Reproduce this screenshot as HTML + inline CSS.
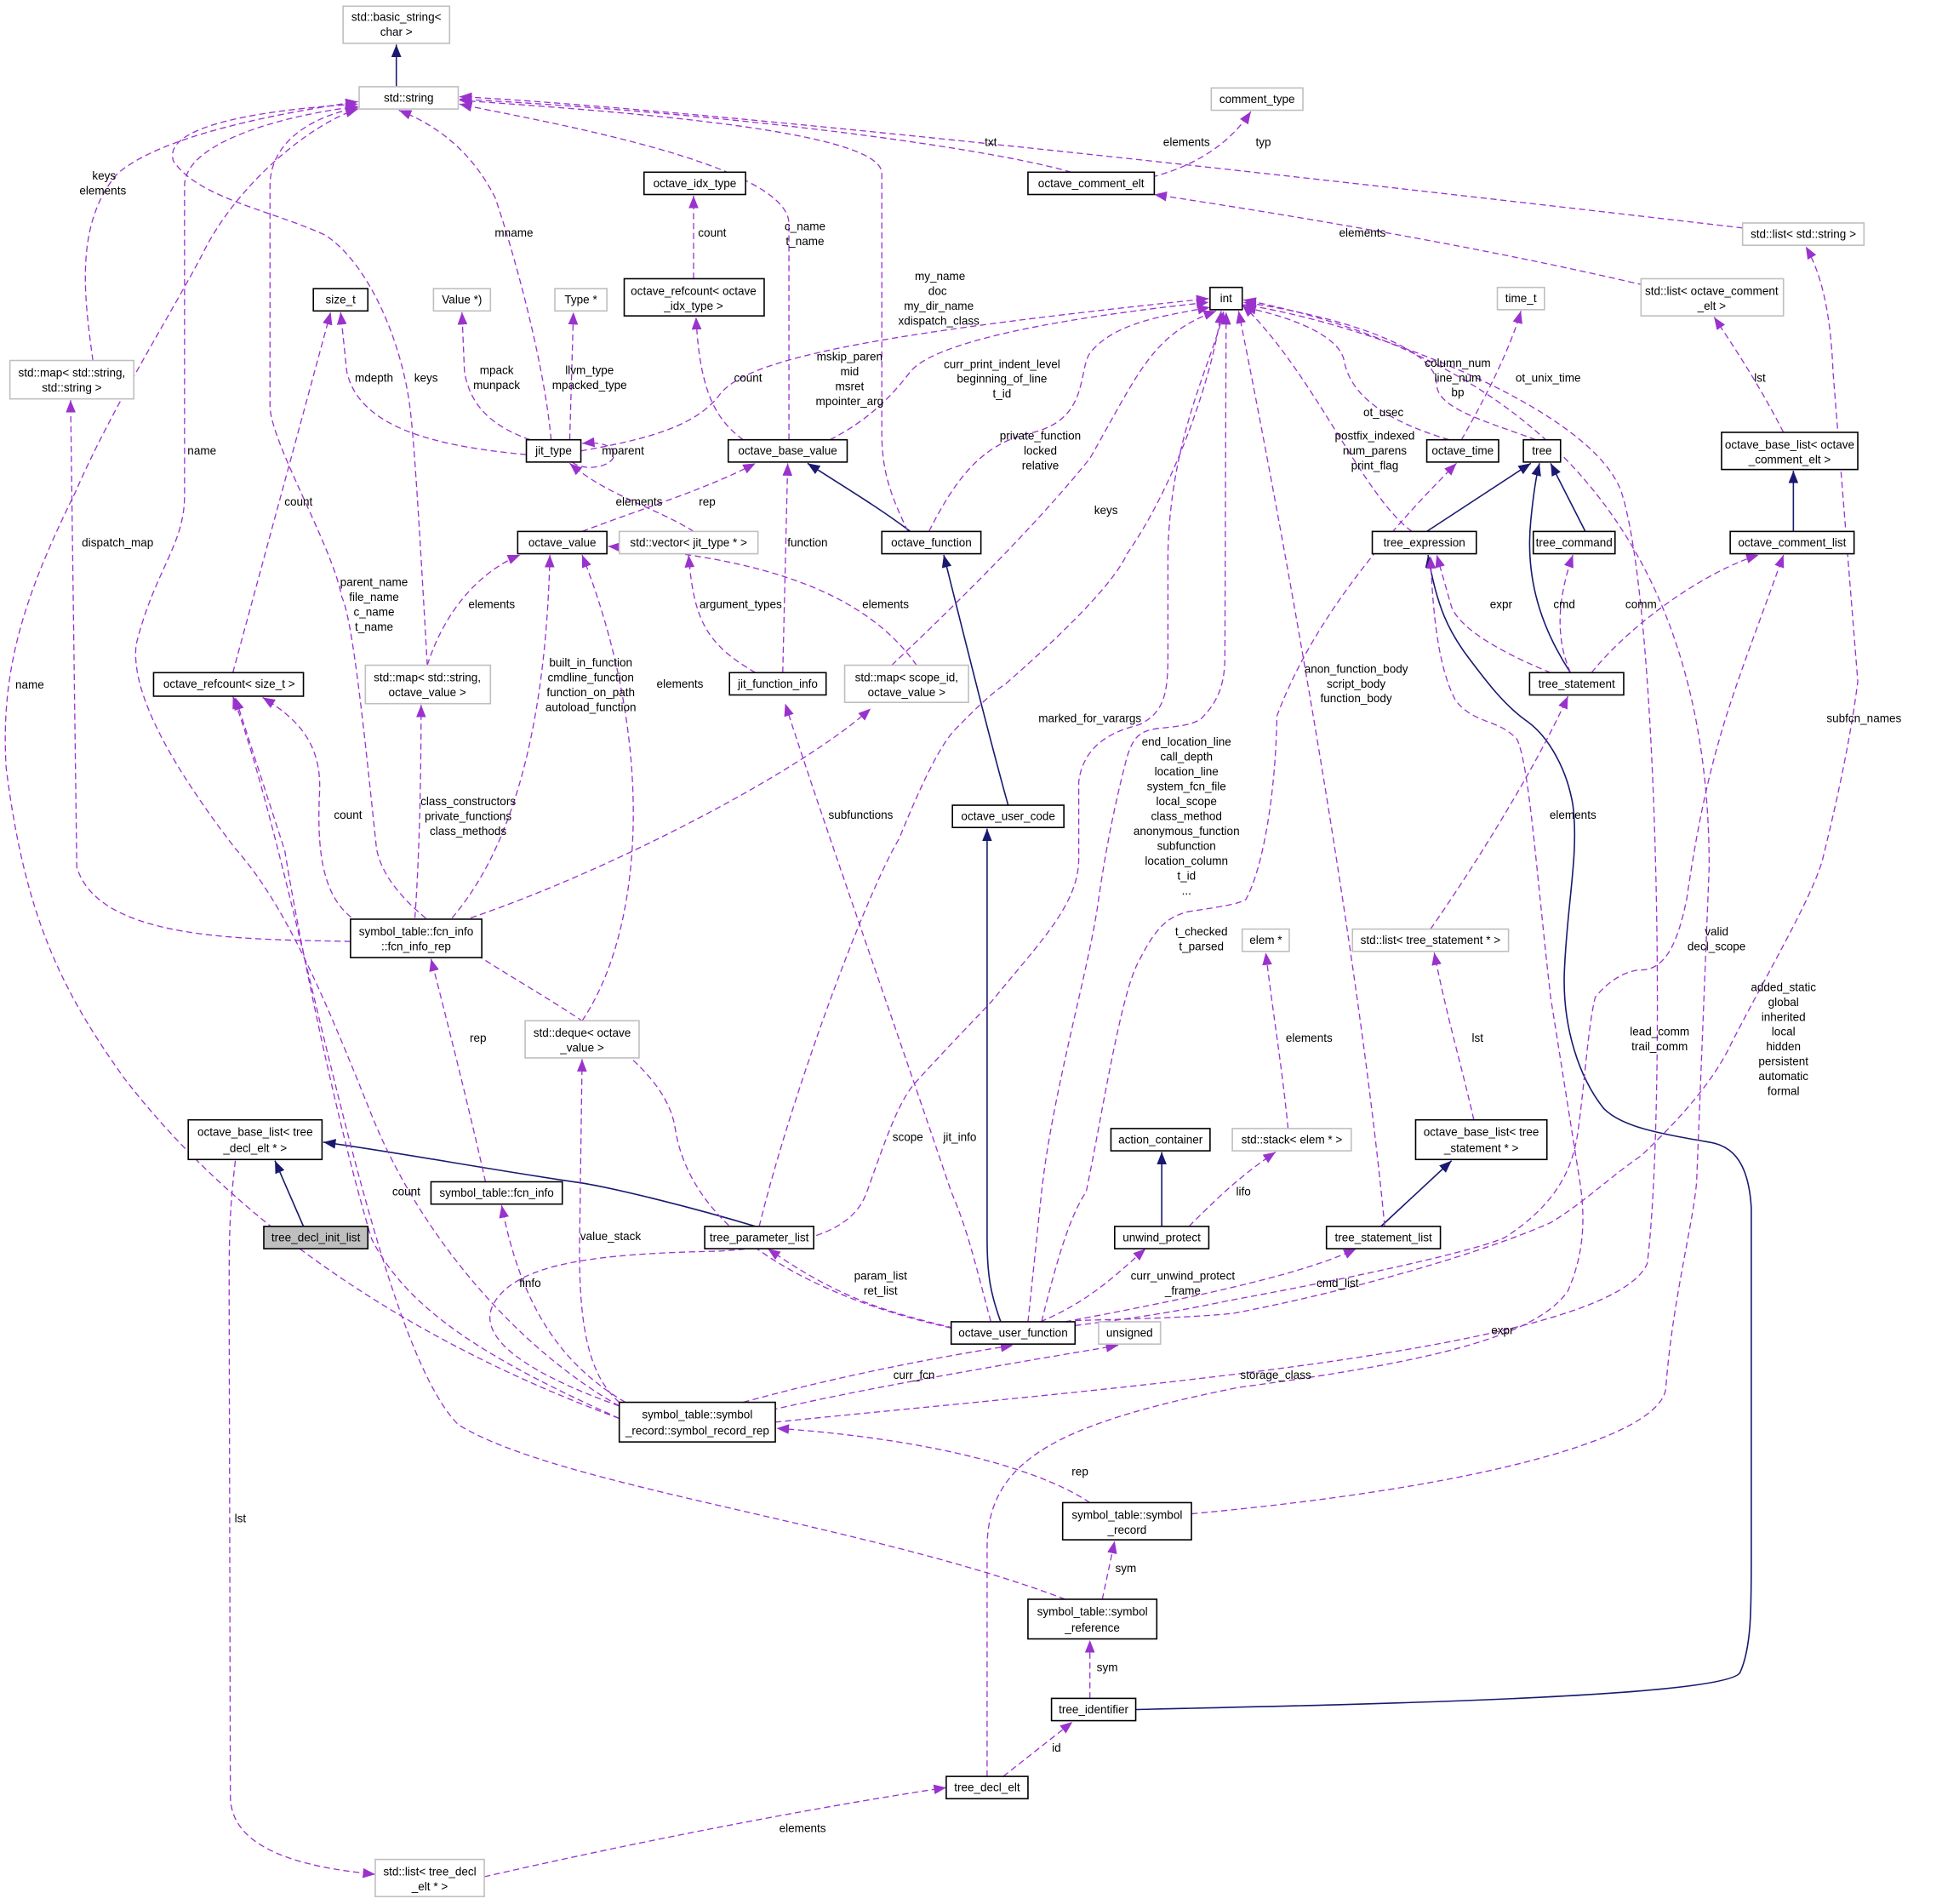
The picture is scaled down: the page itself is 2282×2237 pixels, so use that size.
<!DOCTYPE html>
<html><head><meta charset="utf-8"><style>
html,body{margin:0;padding:0;background:#fff;}
svg{display:block;}
text{font-family:"Liberation Sans",sans-serif;font-size:9.3px;fill:#000;text-anchor:middle;}
.b{fill:#fff;stroke:#000;stroke-width:1.1;}
.g{fill:#fff;stroke:#bfbfbf;stroke-width:1.1;}
.f{fill:#bfbfbf;stroke:#000;stroke-width:1.1;}
.d{fill:none;stroke:#9a32cd;stroke-width:0.9;stroke-dasharray:5,3;marker-end:url(#pa);}
.s{fill:none;stroke:#191970;stroke-width:1.1;marker-end:url(#na);}
</style></head><body>
<svg width="2282" height="2237" viewBox="0 0 1568 1537" preserveAspectRatio="none" xmlns="http://www.w3.org/2000/svg">
<defs>
<marker id="pa" markerUnits="userSpaceOnUse" markerWidth="11" markerHeight="8" refX="10" refY="4" orient="auto"><path d="M0,0 L10,4 L0,8 z" fill="#9a32cd"/></marker>
<marker id="na" markerUnits="userSpaceOnUse" markerWidth="11" markerHeight="8" refX="10" refY="4" orient="auto"><path d="M0,0 L10,4 L0,8 z" fill="#191970"/></marker>
</defs>

<!-- solid inheritance edges -->
<path class="s" d="M320,70 L320,36"/>
<path class="s" d="M735,429 C710,410 680,392 652,374"/>
<path class="s" d="M814,650 C800,600 780,520 762,448"/>
<path class="s" d="M808,1067 C800,1045 797,1030 797,1000 L797,669"/>
<path class="s" d="M1152,429 L1236,374"/>
<path class="s" d="M1280,429 L1252,374"/>
<path class="s" d="M1268,543 C1240,500 1232,460 1236,420 C1238,400 1240,385 1243,374"/>
<path class="s" d="M1448,429 L1448,380"/>
<path class="s" d="M245,990 L222,937"/>
<path class="s" d="M610,990 C560,975 500,960 470,955 C400,945 320,930 261,922"/>
<path class="s" d="M938,990 L938,930"/>
<path class="s" d="M1115,990 L1172,937"/>
<path class="s" d="M917,1380 C1100,1376 1395,1370 1405,1350 C1414,1330 1414,1300 1414,1260 L1414,975 C1412,940 1400,925 1380,922 C1340,915 1310,910 1295,895 C1275,870 1262,830 1263,787 C1265,730 1275,690 1270,650 C1265,620 1250,595 1234,583 C1215,570 1200,550 1185,530 C1170,510 1160,490 1153,448"/>

<!-- dashed edges to std::string -->
<path class="d" d="M75,291 C68,240 60,180 95,140 C130,110 220,92 289,82"/>
<path class="d" d="M500,1145 C350,1090 200,1000 100,870 C50,800 20,740 5,620 C0,540 20,480 61,397 C90,330 140,250 163,206 C190,150 250,100 289,88"/>
<path class="d" d="M500,1135 C420,1090 340,1000 300,900 C260,800 230,730 190,685 C140,620 105,560 110,520 C125,460 149,440 149,400 L149,150 C149,110 250,90 289,86"/>
<path class="d" d="M345,537 C340,450 335,360 331,329 C325,280 300,215 263,190 C220,170 160,160 140,130 C130,100 220,88 289,84"/>
<path class="d" d="M768,1072 C690,1055 560,1010 545,910 C530,820 320,770 304,685 C295,600 285,500 276,482 C268,440 220,360 218,329 L218,150 C218,110 260,92 289,87"/>
<path class="d" d="M445,355 C440,300 420,220 400,160 C380,120 350,100 322,89"/>
<path class="d" d="M637,355 L637,180 C635,130 420,95 371,84"/>
<path class="d" d="M733,429 C722,405 712,385 712,350 L712,140 C712,105 500,90 371,81"/>
<path class="d" d="M865,139 C800,120 600,92 371,80"/>
<path class="d" d="M1407,184 C1200,160 600,90 371,78"/>

<!-- edges to int -->
<path class="d" d="M469,364 C520,355 560,345 580,320 C600,290 700,270 976,241"/>
<path class="d" d="M670,355 C700,340 720,320 735,300 C760,270 900,252 976,244"/>
<path class="d" d="M750,429 C770,390 790,360 830,350 C880,340 870,300 880,285 C900,260 940,255 977,248"/>
<path class="d" d="M720,537 C780,480 840,420 880,370 C920,300 930,270 982,251"/>
<path class="d" d="M613,990 C640,880 700,720 726,677 C745,630 760,600 772,588 C790,570 800,560 812,552 C860,510 900,470 910,447 C950,390 980,300 986,251"/>
<path class="d" d="M500,1135 C430,1110 380,1080 400,1050 C420,1020 480,1012 580,1010 C660,1005 690,990 700,962 C715,920 725,890 739,874 C770,840 790,820 801,808 C840,760 871,730 871,693 L871,631 C875,600 900,590 920,585 C940,575 943,560 943,529 L943,447 C945,350 980,290 988,251"/>
<path class="d" d="M830,1067 C835,1020 838,990 841,962 C850,880 880,780 887,726 C895,670 905,630 910,611 C915,595 920,590 935,588 C955,586 963,585 970,580 C985,565 989,550 989,529 L990,252"/>
<path class="d" d="M1118,990 C1100,800 1050,500 1000,251"/>
<path class="d" d="M1140,429 C1100,400 1060,300 1003,246"/>
<path class="d" d="M1170,355 C1120,340 1090,320 1085,290 C1080,270 1040,255 1004,248"/>
<path class="d" d="M1240,355 C1200,340 1160,330 1160,310 C1160,280 1080,255 1004,244"/>
<path class="d" d="M962,1222 C1200,1200 1340,1160 1345,1121 C1350,1050 1369,980 1370,951 L1380,700 C1380,500 1300,300 1004,242"/>
<path class="d" d="M626,1148 C900,1120 1300,1090 1330,1020 C1345,900 1340,500 1310,400 C1290,330 1100,260 1004,246"/>

<!-- other dashed edges -->
<path class="d" d="M1180,355 C1200,320 1220,280 1228,251"/>
<path class="d" d="M841,1067 C855,1010 865,980 877,962 C890,900 905,800 920,775 C935,745 945,740 959,736 C985,732 1000,730 1006,726 C1020,700 1030,640 1031,578 C1060,500 1120,430 1176,374"/>
<path class="d" d="M868,1070 C950,1060 980,1052 997,1049 C1100,1030 1190,1010 1215,999 C1260,970 1270,940 1274,914 C1280,870 1282,830 1288,805 C1300,790 1315,783 1325,783 C1345,783 1355,760 1362,725 C1380,600 1400,560 1440,448"/>
<path class="d" d="M868,1066 C950,1064 980,1062 997,1060 C1100,1040 1200,1010 1252,987 C1280,970 1300,950 1325,933 C1360,900 1385,870 1398,842 C1430,780 1460,730 1471,696 C1485,640 1495,590 1500,550 L1480,300 C1478,250 1470,220 1458,199"/>
<path class="d" d="M797,1434 L797,1250 C797,1180 850,1150 1000,1120 C1150,1100 1240,1080 1266,1042 C1280,1010 1280,980 1275,950 L1252,805 C1240,700 1235,620 1225,597 C1210,580 1190,585 1175,565 C1162,540 1157,500 1155,449"/>
<path class="d" d="M1252,543 C1220,530 1180,510 1172,490 L1160,448"/>
<path class="d" d="M1268,543 C1258,520 1255,490 1270,448"/>
<path class="d" d="M1285,543 C1320,500 1380,460 1420,448"/>
<path class="d" d="M1155,750 C1190,700 1240,620 1266,562"/>
<path class="d" d="M1190,904 C1180,860 1168,820 1158,769"/>
<path class="d" d="M1440,349 C1420,310 1400,280 1384,256"/>
<path class="d" d="M1335,232 C1200,200 1050,175 932,157"/>
<path class="d" d="M930,143 C960,135 990,120 1010,90"/>
<path class="d" d="M560,225 L560,158"/>
<path class="d" d="M600,355 C580,340 565,320 562,256"/>
<path class="d" d="M470,429 C520,410 570,395 610,374"/>
<path class="d" d="M632,543 L636,374"/>
<path class="d" d="M560,429 C530,410 490,400 460,374"/>
<path class="d" d="M425,367 C350,360 290,345 280,300 L275,252"/>
<path class="d" d="M428,355 C400,345 380,330 375,300 L373,252"/>
<path class="d" d="M460,355 L463,252"/>
<path class="d" d="M462,373 C470,380 490,378 495,370 C498,362 490,356 470,358"/>
<path class="d" d="M188,543 L267,252"/>
<path class="d" d="M610,543 C570,520 560,500 556,448"/>
<path class="d" d="M740,537 C700,480 620,450 491,441"/>
<path class="d" d="M345,537 C360,490 390,460 420,448"/>
<path class="d" d="M365,741 C400,700 440,620 444,448"/>
<path class="d" d="M335,741 C338,700 340,640 340,569"/>
<path class="d" d="M380,741 C500,700 650,620 703,572"/>
<path class="d" d="M290,745 C265,730 255,700 258,640 C260,600 240,580 212,563"/>
<path class="d" d="M283,760 C200,758 80,760 62,700 L57,323"/>
<path class="d" d="M470,824 C520,750 530,600 470,448"/>
<path class="d" d="M392,954 C380,900 360,820 348,774"/>
<path class="d" d="M505,1132 C450,1100 420,1050 405,973"/>
<path class="d" d="M500,1132 C475,1110 467,1070 468,1000 L470,855"/>
<path class="d" d="M500,1145 C400,1100 330,1060 300,1000 C270,900 240,750 230,687 L190,563"/>
<path class="d" d="M860,1291 C700,1230 450,1200 370,1150 C300,1080 240,700 188,562"/>
<path class="d" d="M600,1132 C680,1110 760,1095 818,1086"/>
<path class="d" d="M615,1140 C700,1120 820,1100 903,1086"/>
<path class="d" d="M880,1213 C830,1180 730,1160 627,1153"/>
<path class="d" d="M890,1291 L900,1244"/>
<path class="d" d="M880,1371 L880,1324"/>
<path class="d" d="M810,1434 L866,1390"/>
<path class="d" d="M391,1515 C500,1490 650,1460 764,1443"/>
<path class="d" d="M190,937 C185,980 185,1000 185,1050 L186,1450 C186,1495 250,1508 303,1513"/>
<path class="d" d="M770,1072 C720,1060 680,1050 620,1008"/>
<path class="d" d="M840,1067 C880,1050 900,1030 925,1008"/>
<path class="d" d="M860,1067 C950,1050 1050,1030 1095,1008"/>
<path class="d" d="M960,990 C980,970 1000,950 1030,930"/>
<path class="d" d="M1040,911 C1035,860 1028,820 1022,769"/>
<path class="d" d="M800,1067 C785,1010 780,990 768,962 C720,820 660,650 634,568"/>

<!-- nodes -->
<rect class="g" x="277" y="5" width="86" height="30"/><text x="320" y="17">std::basic_string&lt;</text><text x="320" y="29">char &gt;</text>
<rect class="g" x="290" y="70" width="80" height="18"/><text x="330" y="82">std::string</text>
<rect class="g" x="978" y="71" width="74" height="18"/><text x="1015" y="83">comment_type</text>
<rect class="b" x="830" y="139" width="102" height="18"/><text x="881" y="151">octave_comment_elt</text>
<rect class="g" x="1407" y="180" width="98" height="18"/><text x="1456" y="192">std::list&lt; std::string &gt;</text>
<rect class="b" x="520" y="139" width="82" height="18"/><text x="561" y="151">octave_idx_type</text>
<rect class="b" x="253" y="233" width="44" height="18"/><text x="275" y="245">size_t</text>
<rect class="g" x="350" y="233" width="46" height="18"/><text x="373" y="245">Value *)</text>
<rect class="g" x="448" y="233" width="42" height="18"/><text x="469" y="245">Type *</text>
<rect class="b" x="504" y="225" width="113" height="30"/><text x="560" y="238">octave_refcount&lt; octave</text><text x="560" y="250">_idx_type &gt;</text>
<rect class="b" x="977" y="232" width="26" height="18"/><text x="990" y="244">int</text>
<rect class="g" x="1209" y="232" width="38" height="18"/><text x="1228" y="244">time_t</text>
<rect class="g" x="1325" y="225" width="115" height="30"/><text x="1382" y="238">std::list&lt; octave_comment</text><text x="1382" y="250">_elt &gt;</text>
<rect class="g" x="8" y="291" width="100" height="31"/><text x="58" y="304">std::map&lt; std::string,</text><text x="58" y="316">std::string &gt;</text>
<rect class="b" x="425" y="355" width="44" height="18"/><text x="447" y="367">jit_type</text>
<rect class="b" x="588" y="355" width="96" height="18"/><text x="636" y="367">octave_base_value</text>
<rect class="b" x="1152" y="355" width="58" height="18"/><text x="1181" y="367">octave_time</text>
<rect class="b" x="1230" y="355" width="30" height="18"/><text x="1245" y="367">tree</text>
<rect class="b" x="1390" y="349" width="110" height="30"/><text x="1445" y="362">octave_base_list&lt; octave</text><text x="1445" y="374">_comment_elt &gt;</text>
<rect class="b" x="418" y="429" width="72" height="18"/><text x="454" y="441">octave_value</text>
<rect class="g" x="500" y="429" width="112" height="18"/><text x="556" y="441">std::vector&lt; jit_type * &gt;</text>
<rect class="b" x="712" y="429" width="80" height="18"/><text x="752" y="441">octave_function</text>
<rect class="b" x="1108" y="429" width="84" height="18"/><text x="1150" y="441">tree_expression</text>
<rect class="b" x="1238" y="429" width="66" height="18"/><text x="1271" y="441">tree_command</text>
<rect class="b" x="1397" y="429" width="100" height="18"/><text x="1447" y="441">octave_comment_list</text>
<rect class="b" x="124" y="543" width="121" height="19"/><text x="185" y="555">octave_refcount&lt; size_t &gt;</text>
<rect class="g" x="295" y="537" width="101" height="31"/><text x="345" y="550">std::map&lt; std::string,</text><text x="345" y="562">octave_value &gt;</text>
<rect class="b" x="589" y="543" width="78" height="18"/><text x="628" y="555">jit_function_info</text>
<rect class="g" x="682" y="537" width="100" height="30"/><text x="732" y="550">std::map&lt; scope_id,</text><text x="732" y="562">octave_value &gt;</text>
<rect class="b" x="1235" y="543" width="76" height="18"/><text x="1273" y="555">tree_statement</text>
<rect class="b" x="769" y="650" width="90" height="18"/><text x="814" y="662">octave_user_code</text>
<rect class="b" x="283" y="742" width="106" height="31"/><text x="336" y="755">symbol_table::fcn_info</text><text x="336" y="767">::fcn_info_rep</text>
<rect class="g" x="1003" y="750" width="38" height="18"/><text x="1022" y="762">elem *</text>
<rect class="g" x="1092" y="750" width="126" height="18"/><text x="1155" y="762">std::list&lt; tree_statement * &gt;</text>
<rect class="g" x="424" y="824" width="92" height="30"/><text x="470" y="837">std::deque&lt; octave</text><text x="470" y="849">_value &gt;</text>
<rect class="b" x="152" y="904" width="108" height="32"/><text x="206" y="917">octave_base_list&lt; tree</text><text x="206" y="930">_decl_elt * &gt;</text>
<rect class="b" x="897" y="911" width="80" height="18"/><text x="937" y="923">action_container</text>
<rect class="g" x="995" y="911" width="96" height="18"/><text x="1043" y="923">std::stack&lt; elem * &gt;</text>
<rect class="b" x="1143" y="904" width="106" height="32"/><text x="1196" y="917">octave_base_list&lt; tree</text><text x="1196" y="930">_statement * &gt;</text>
<rect class="f" x="213" y="990" width="84" height="18"/><text x="255" y="1002">tree_decl_init_list</text>
<rect class="b" x="348" y="954" width="106" height="18"/><text x="401" y="966">symbol_table::fcn_info</text>
<rect class="b" x="569" y="990" width="88" height="18"/><text x="613" y="1002">tree_parameter_list</text>
<rect class="b" x="900" y="990" width="76" height="18"/><text x="938" y="1002">unwind_protect</text>
<rect class="b" x="1071" y="990" width="92" height="18"/><text x="1117" y="1002">tree_statement_list</text>
<rect class="b" x="768" y="1067" width="100" height="18"/><text x="818" y="1079">octave_user_function</text>
<rect class="g" x="887" y="1067" width="50" height="18"/><text x="912" y="1079">unsigned</text>
<rect class="b" x="500" y="1132" width="126" height="32"/><text x="563" y="1145">symbol_table::symbol</text><text x="563" y="1158">_record::symbol_record_rep</text>
<rect class="b" x="858" y="1213" width="104" height="30"/><text x="910" y="1226">symbol_table::symbol</text><text x="910" y="1238">_record</text>
<rect class="b" x="830" y="1291" width="104" height="32"/><text x="882" y="1304">symbol_table::symbol</text><text x="882" y="1317">_reference</text>
<rect class="b" x="849" y="1371" width="68" height="18"/><text x="883" y="1383">tree_identifier</text>
<rect class="b" x="764" y="1434" width="66" height="18"/><text x="797" y="1446">tree_decl_elt</text>
<rect class="g" x="303" y="1501" width="88" height="30"/><text x="347" y="1514">std::list&lt; tree_decl</text><text x="347" y="1526">_elt * &gt;</text>

<!-- edge labels -->
<text x="84" y="145">keys</text><text x="83" y="157">elements</text>
<text x="415" y="191">mname</text>
<text x="650" y="186">c_name</text><text x="650" y="198">t_name</text>
<text x="759" y="226">my_name</text><text x="757" y="238">doc</text><text x="758" y="250">my_dir_name</text><text x="758" y="262">xdispatch_class</text>
<text x="800" y="118">txt</text><text x="958" y="118">elements</text><text x="1020" y="118">typ</text>
<text x="575" y="191">count</text><text x="1100" y="191">elements</text>
<text x="604" y="308">count</text>
<text x="686" y="291">mskip_paren</text><text x="686" y="303">mid</text><text x="686" y="315">msret</text><text x="686" y="327">mpointer_arg</text>
<text x="809" y="297">curr_print_indent_level</text><text x="809" y="309">beginning_of_line</text><text x="809" y="321">t_id</text>
<text x="840" y="355">private_function</text><text x="840" y="367">locked</text><text x="840" y="379">relative</text>
<text x="893" y="415">keys</text>
<text x="1110" y="355">postfix_indexed</text><text x="1110" y="367">num_parens</text><text x="1110" y="379">print_flag</text>
<text x="1117" y="336">ot_usec</text>
<text x="1177" y="296">column_num</text><text x="1177" y="308">line_num</text><text x="1177" y="320">bp</text>
<text x="1250" y="308">ot_unix_time</text>
<text x="1421" y="308">lst</text>
<text x="302" y="308">mdepth</text><text x="344" y="308">keys</text>
<text x="401" y="302">mpack</text><text x="401" y="314">munpack</text>
<text x="476" y="302">llvm_type</text><text x="476" y="314">mpacked_type</text>
<text x="503" y="367">mparent</text>
<text x="516" y="408">elements</text><text x="571" y="408">rep</text>
<text x="241" y="408">count</text>
<text x="163" y="367">name</text>
<text x="24" y="556">name</text>
<text x="95" y="441">dispatch_map</text>
<text x="652" y="441">function</text>
<text x="397" y="491">elements</text><text x="598" y="491">argument_types</text><text x="715" y="491">elements</text>
<text x="549" y="555">elements</text>
<text x="302" y="473">parent_name</text><text x="302" y="485">file_name</text><text x="302" y="497">c_name</text><text x="302" y="509">t_name</text>
<text x="477" y="538">built_in_function</text><text x="477" y="550">cmdline_function</text><text x="477" y="562">function_on_path</text><text x="477" y="574">autoload_function</text>
<text x="1212" y="491">expr</text><text x="1263" y="491">cmd</text><text x="1325" y="491">comm</text>
<text x="880" y="583">marked_for_varargs</text>
<text x="1095" y="543">anon_function_body</text><text x="1095" y="555">script_body</text><text x="1095" y="567">function_body</text>
<text x="1505" y="583">subfcn_names</text>
<text x="958" y="602">end_location_line</text><text x="958" y="614">call_depth</text><text x="958" y="626">location_line</text><text x="958" y="638">system_fcn_file</text><text x="958" y="650">local_scope</text><text x="958" y="662">class_method</text><text x="958" y="674">anonymous_function</text><text x="958" y="686">subfunction</text><text x="958" y="698">location_column</text><text x="958" y="710">t_id</text><text x="958" y="722">...</text>
<text x="970" y="755">t_checked</text><text x="970" y="767">t_parsed</text>
<text x="378" y="650">class_constructors</text><text x="378" y="662">private_functions</text><text x="378" y="674">class_methods</text>
<text x="281" y="661">count</text>
<text x="695" y="661">subfunctions</text>
<text x="1270" y="661">elements</text>
<text x="1386" y="755">valid</text><text x="1386" y="767">decl_scope</text>
<text x="1440" y="800">added_static</text><text x="1440" y="812">global</text><text x="1440" y="824">inherited</text><text x="1440" y="836">local</text><text x="1440" y="848">hidden</text><text x="1440" y="860">persistent</text><text x="1440" y="872">automatic</text><text x="1440" y="884">formal</text>
<text x="1340" y="836">lead_comm</text><text x="1340" y="848">trail_comm</text>
<text x="386" y="841">rep</text><text x="1057" y="841">elements</text><text x="1193" y="841">lst</text>
<text x="733" y="921">scope</text><text x="775" y="921">jit_info</text>
<text x="328" y="965">count</text><text x="1004" y="965">lifo</text>
<text x="493" y="1001">value_stack</text>
<text x="428" y="1039">finfo</text>
<text x="711" y="1033">param_list</text><text x="711" y="1045">ret_list</text>
<text x="955" y="1033">curr_unwind_protect</text><text x="955" y="1045">_frame</text>
<text x="1080" y="1039">cmd_list</text>
<text x="1213" y="1077">expr</text>
<text x="738" y="1113">curr_fcn</text><text x="1030" y="1113">storage_class</text>
<text x="872" y="1191">rep</text>
<text x="909" y="1269">sym</text>
<text x="194" y="1229">lst</text>
<text x="894" y="1349">sym</text>
<text x="853" y="1414">id</text>
<text x="648" y="1479">elements</text>
</svg>
</body></html>
